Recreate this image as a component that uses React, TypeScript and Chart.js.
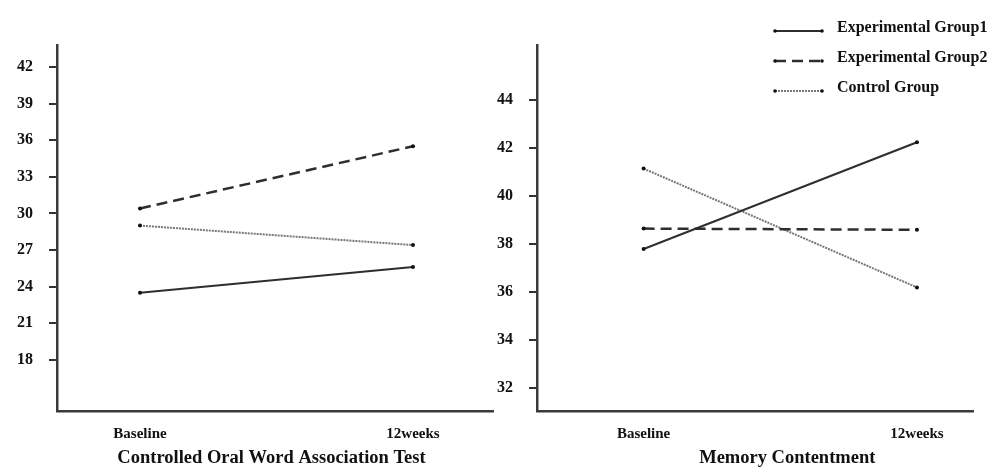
import { useEffect, useRef } from "react";
import { Chart, registerables } from "chart.js";

Chart.register(...registerables);

// ---- data ----
const timepoints = ["Baseline", "12weeks"];
const seriesNames = ["Experimental Group1", "Experimental Group2", "Control Group"];

const cowatExp1 = [23.5, 25.6];
const cowatExp2 = [30.4, 35.5];
const cowatControl = [29.0, 27.4];
const cowatTicks = [18, 21, 24, 27, 30, 33, 36, 39, 42];
const cowatTitle = "Controlled Oral Word Association Test";

const memExp1 = [37.8, 42.25];
const memExp2 = [38.65, 38.6];
const memControl = [41.15, 36.2];
const memTicks = [32, 34, 36, 38, 40, 42, 44];
const memTitle = "Memory Contentment";

// ---- styles ----
const FONT = '"Liberation Serif", "Times New Roman", serif';
const lineStyles = [
  { borderColor: "#2e2e2e", borderWidth: 2, borderDash: [] as number[] },
  { borderColor: "#2e2e2e", borderWidth: 2.5, borderDash: [11, 6] },
  { borderColor: "#777777", borderWidth: 2, borderDash: [2, 1] },
];

function buildDatasets(series: number[][]) {
  return series.map((vals, i) => ({
    label: seriesNames[i],
    data: vals.map((v, j) => ({ x: j, y: v })),
    ...lineStyles[i],
    pointRadius: 2,
    pointBackgroundColor: "#111",
    pointBorderColor: "#111",
    pointBorderWidth: 0,
    fill: false,
    tension: 0,
  }));
}

const titlePlugin = {
  id: "bottomTitle",
  afterDraw(chart: any, _args: any, opts: any) {
    if (!opts || !opts.text) return;
    const ctx = chart.ctx;
    const xs = chart.scales.x;
    ctx.save();
    ctx.font = `bold 18.5px ${FONT}`;
    ctx.fillStyle = "#111";
    ctx.textAlign = "center";
    ctx.textBaseline = "middle";
    ctx.fillText(opts.text, xs.getPixelForValue(0.5) + (opts.dx || 0), 458);
    ctx.restore();
  },
};

const legendPlugin = {
  id: "customLegend",
  afterDraw(chart: any, _args: any, opts: any) {
    if (!opts || !opts.show) return;
    const ctx = chart.ctx;
    const ox = opts.x || 0;
    ctx.save();
    chart.data.datasets.forEach((ds: any, i: number) => {
      const yLine = 31 + i * 30;
      const x0 = ox;
      const x1 = ox + 47;
      ctx.strokeStyle = ds.borderColor;
      ctx.lineWidth = ds.borderWidth;
      ctx.setLineDash(ds.borderDash || []);
      ctx.beginPath();
      ctx.moveTo(x0, yLine);
      ctx.lineTo(x1, yLine);
      ctx.stroke();
      ctx.setLineDash([]);
      ctx.fillStyle = "#111";
      [x0, x1].forEach((px) => {
        ctx.beginPath();
        ctx.arc(px, yLine, 1.8, 0, Math.PI * 2);
        ctx.fill();
      });
      ctx.font = `bold 16px ${FONT}`;
      ctx.textAlign = "left";
      ctx.textBaseline = "middle";
      ctx.fillText(ds.label, ox + 62, yLine - 3);
    });
    ctx.restore();
  },
};

function makeConfig(p: {
  series: number[][];
  ticks: number[];
  yMin: number;
  yMax: number;
  xMin: number;
  xMax: number;
  yWidth: number;
  padRight: number;
  title: string;
  titleDx: number;
  legend: boolean;
  legendX: number;
}): any {
  return {
    type: "line",
    data: { datasets: buildDatasets(p.series) },
    plugins: [titlePlugin, legendPlugin],
    options: {
      responsive: false,
      animation: false,
      devicePixelRatio: 1,
      font: { family: FONT },
      layout: { padding: { top: 45, right: p.padRight, bottom: 0, left: 0 } },
      plugins: {
        legend: { display: false },
        tooltip: { enabled: false },
        bottomTitle: { text: p.title, dx: p.titleDx },
        customLegend: { show: p.legend, x: p.legendX },
      },
      scales: {
        x: {
          type: "linear",
          min: p.xMin,
          max: p.xMax,
          afterBuildTicks: (s: any) => {
            s.ticks = timepoints.map((_, i) => ({ value: i }));
          },
          afterFit: (s: any) => {
            s.height = 64;
          },
          grid: { drawOnChartArea: false, drawTicks: false },
          border: { display: true, color: "#3a3a3a", width: 2.5 },
          ticks: {
            padding: 14,
            color: "#111",
            font: { family: FONT, size: 15, weight: "bold" },
            callback: (v: any) => timepoints[v] ?? "",
          },
        },
        y: {
          type: "linear",
          min: p.yMin,
          max: p.yMax,
          afterBuildTicks: (s: any) => {
            s.ticks = p.ticks.map((v) => ({ value: v }));
          },
          afterFit: (s: any) => {
            s.width = p.yWidth;
          },
          grid: {
            drawOnChartArea: false,
            drawTicks: true,
            tickLength: 8,
            color: "#333",
            lineWidth: 2,
          },
          border: { display: true, color: "#3a3a3a", width: 2.5 },
          ticks: {
            padding: 16,
            color: "#111",
            font: { family: FONT, size: 16, weight: "bold" },
          },
        },
      },
    },
  };
}

function ChartCanvas({ config, width, left }: { config: any; width: number; left: number }) {
  const ref = useRef<HTMLCanvasElement | null>(null);
  useEffect(() => {
    if (!ref.current) return;
    const chart = new Chart(ref.current, config);
    return () => chart.destroy();
  }, [config]);
  return (
    <canvas
      ref={ref}
      width={width}
      height={475}
      style={{ position: "absolute", left, top: 0, width, height: 475 }}
    />
  );
}

const leftConfig = makeConfig({
  series: [cowatExp1, cowatExp2, cowatControl],
  ticks: cowatTicks,
  yMin: 13.8,
  yMax: 43.8,
  xMin: -0.304,
  xMax: 1.293,
  yWidth: 57,
  padRight: 7,
  title: cowatTitle,
  titleDx: -5,
  legend: false,
  legendX: 0,
});

const rightConfig = makeConfig({
  series: [memExp1, memExp2, memControl],
  ticks: memTicks,
  yMin: 31.05,
  yMax: 46.3,
  xMin: -0.39,
  xMax: 1.205,
  yWidth: 67,
  padRight: 28,
  title: memTitle,
  titleDx: 7,
  legend: true,
  legendX: 305,
});

export default function App() {
  return (
    <div
      style={{
        position: "absolute",
        left: 0,
        top: 0,
        width: 1001,
        height: 475,
        background: "#fff",
        overflow: "hidden",
      }}
    >
      <ChartCanvas config={leftConfig} width={500} left={0} />
      <ChartCanvas config={rightConfig} width={531} left={470} />
    </div>
  );
}
